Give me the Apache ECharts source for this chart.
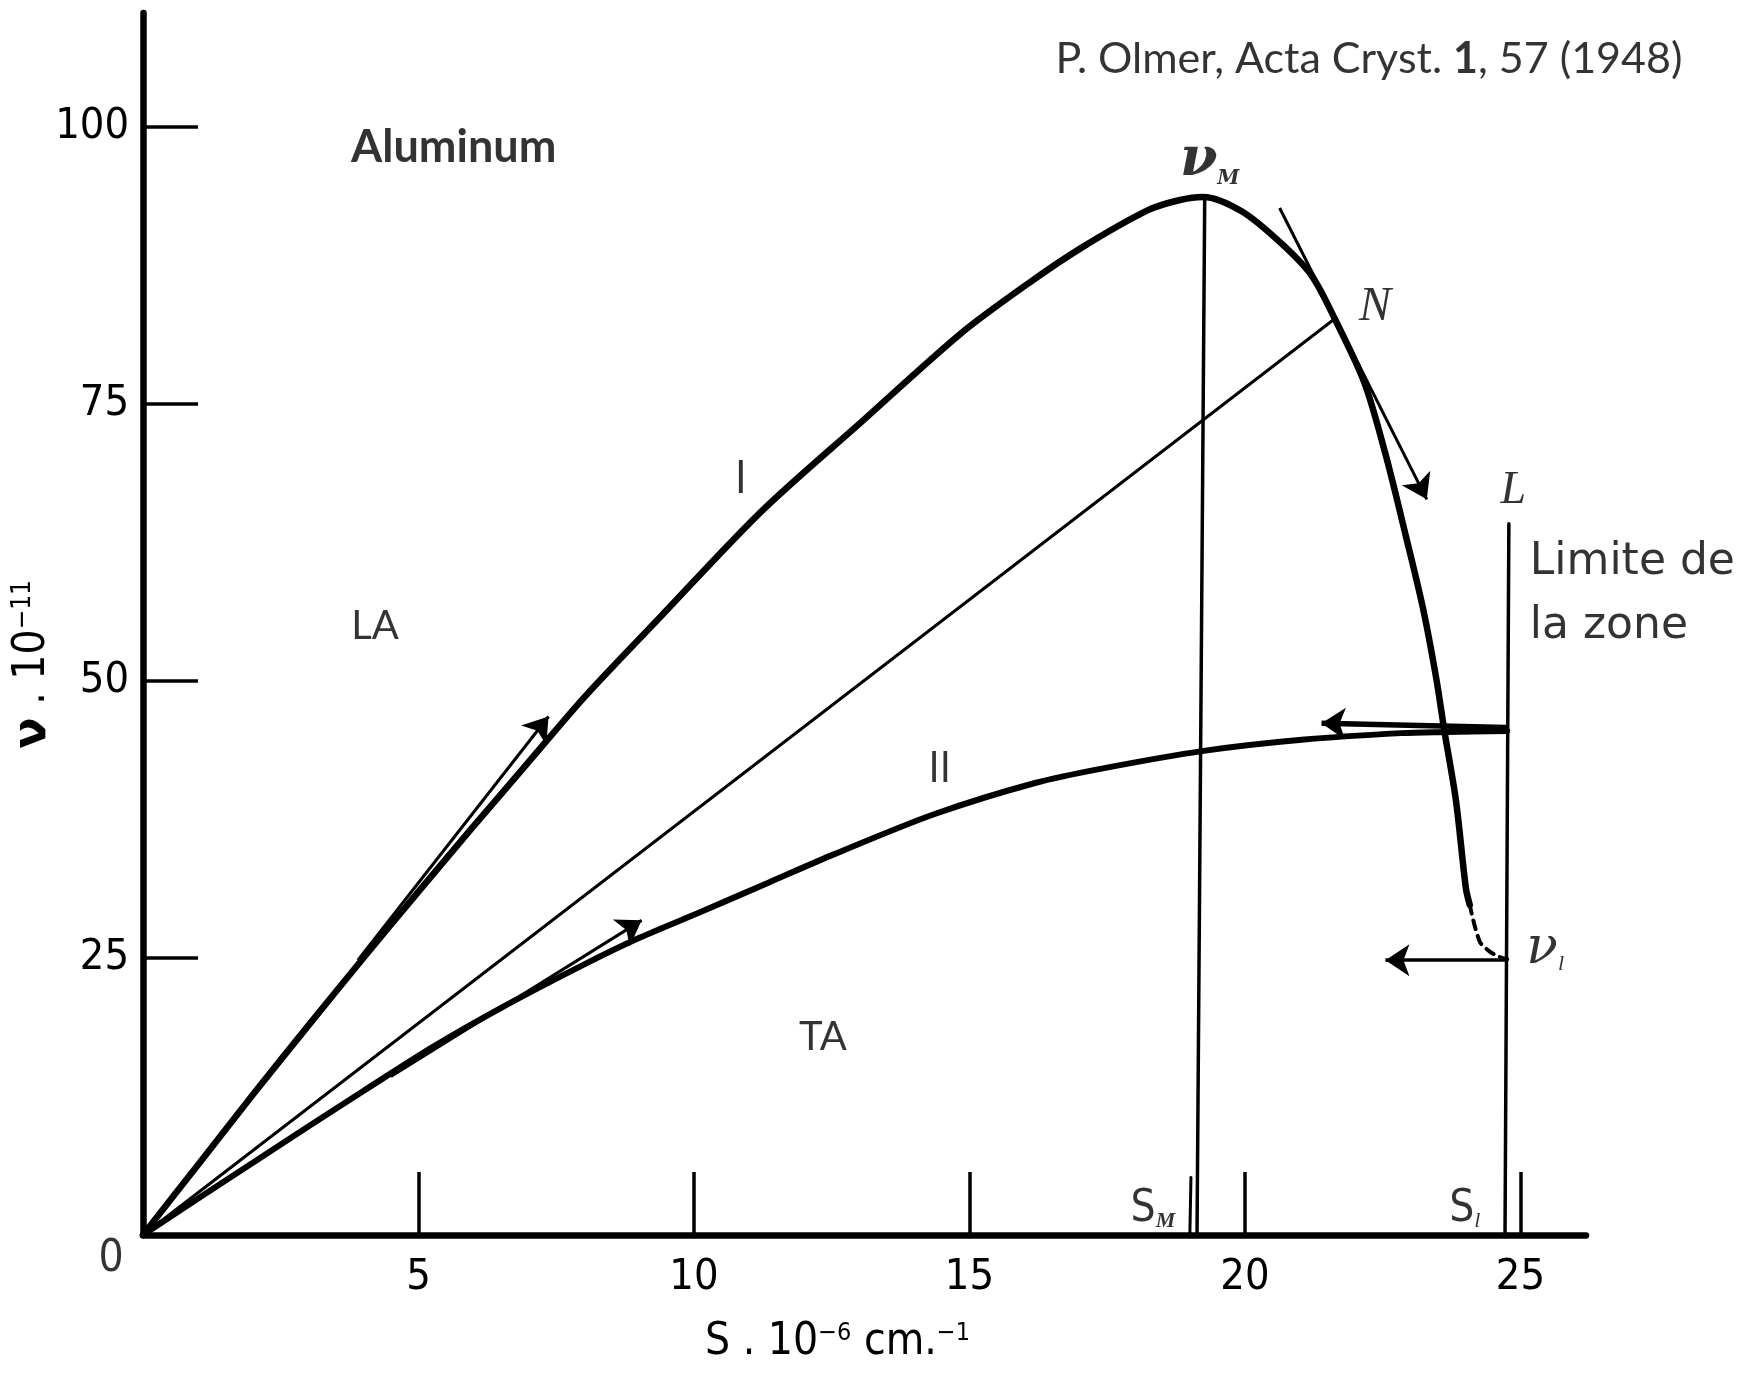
<!DOCTYPE html>
<html><head><meta charset="utf-8">
<script src="https://cdn.jsdelivr.net/npm/echarts@6/dist/echarts.min.js"></script>
<style>html,body{margin:0;padding:0;background:#fff}#c{width:1744px;height:1377px}</style>
</head><body><div id="c"></div>
<script>
// ---- data (S in 10^6 cm^-1, nu in 10^11) ----
const xTicks = [5, 10, 15, 20, 25];
const yTicks = [25, 50, 75, 100];

// Curve I (LA branch), solid part
const curveIS  = [0, 1, 2, 3, 4, 5, 6, 7, 8.02, 9.41, 11.22, 13.04, 14.85, 16.07, 17.03, 18.24, 18.8, 19.24, 19.94, 20.66, 21.21, 21.63, 22.17, 22.55, 22.93, 23.23, 23.47, 23.62, 23.83, 24.01, 24.08];
const curveINu = [0, 6.35, 12.7, 18.9, 25.0, 31.0, 36.9, 42.7, 48.6, 55.9, 65.3, 73.4, 81.4, 85.9, 89.1, 92.5, 93.4, 93.7, 92.4, 89.5, 86.6, 82.7, 76.9, 70.5, 62.9, 56.6, 50.3, 45.5, 39.2, 31.3, 29.8];
// Curve I, dashed end down to nu_l
const curveIDashS  = [24.08, 24.26, 24.44, 24.62, 24.76];
const curveIDashNu = [29.8, 26.5, 25.6, 25.1, 24.9];

// Curve II (TA branch)
const curveIIS  = [0, 1, 2, 3, 4, 5.27, 6.5, 8, 9, 10.14, 11.35, 12.56, 14.37, 16.19, 17.4, 19.25, 21.03, 22.84, 23.66, 24.76];
const curveIINu = [0, 3.3, 6.55, 9.8, 13.0, 17.0, 20.5, 24.4, 26.8, 29.2, 31.8, 34.4, 38.0, 40.8, 42.1, 43.7, 44.7, 45.3, 45.4, 45.5];

// Straight chord O -> N
const chordS  = [0, 21.63];
const chordNu = [0, 82.7];
// Vertical line at S_M (through nu_M)
const smLineS  = [19.13, 19.27];
const smLineNu = [0, 93.7];
const smStrokeS  = [19.0, 19.02];
const smStrokeNu = [0, 5.2];
// Zone limit line L at S_l
const lLineS  = [24.72, 24.79];
const lLineNu = [0, 64.2];

// Arrows: from (S, nu) to (S, nu)
const arrowFromS  = [3.9, 4.5, 20.63, 24.74, 24.74];
const arrowFromNu = [24.8, 14.3, 92.7, 45.8, 24.8];
const arrowToS    = [7.36, 9.05, 23.3, 21.39, 22.55];
const arrowToNu   = [46.8, 28.4, 66.4, 46.2, 24.8];

// Annotations anchored in data coordinates
const noteText = ['Aluminum', 'P. Olmer, Acta Cryst. 1, 57 (1948)', 'LA', 'TA', 'I', 'II', 'νM', 'N', 'L', 'Limite de\nla zone', 'νl', 'SM', 'Sl', '0'];
const noteS    = [5.64, 22.25, 4.21, 12.34, 10.85, 14.46, 19.36, 22.36, 24.87, 25.17, 25.45, 18.33, 23.99, -0.58];
const noteNu   = [98.2, 106.1, 54.96, 17.87, 68.0, 41.9, 96.9, 83.75, 67.2, 57.8, 25.8, 2.26, 2.26, -2.26];

// Axis titles
const xTitle = '{a|S . 10}{s|−6}{a| cm.}{s|−1}';
const yTitle = '{v|ν}{a| . 10}{s|−11}';

// ---- styles ----
const black = '#000';
const cond = "'DejaVu Sans Condensed','Liberation Sans',sans-serif";
const calibri = "Lato,'Open Sans',sans-serif";
const serif = "'DejaVu Serif','Liberation Serif',serif";
const lserif = "'Liberation Serif','DejaVu Serif',serif";
const gill = "'DejaVu Sans',sans-serif";

function pairs(xs, ys) { return xs.map((x, i) => [x, ys[i]]); }
function curve(xs, ys, width, type, smooth) {
  return { type: 'line', data: pairs(xs, ys), showSymbol: false, symbol: 'none', smooth: smooth || 0,
    lineStyle: { color: black, width: width, type: type || 'solid', cap: 'round' }, silent: true, z: 3 };
}

const noteFormat = [
  'Aluminum',
  '{r|P. Olmer, Acta Cryst. }{b|1}{r|, 57 (1948)}',
  'LA', 'TA', 'I', 'II',
  '{v|ν}{m|M}',
  'N', 'L',
  'Limite de\nla zone',
  '{v|ν}{m|l}',
  '{S|S}{m|M}',
  '{S|S}{m|l}',
  '0'
];
const noteStyles = [
  { fontFamily: calibri, fontWeight: 'bold', fontSize: 45 },
  { fontFamily: calibri, fontSize: 43, rich: { r: { fontFamily: calibri, fontSize: 43 }, b: { fontFamily: calibri, fontSize: 43, fontWeight: 'bold' } } },
  { fontFamily: calibri, fontSize: 40 },
  { fontFamily: calibri, fontSize: 40 },
  { fontFamily: cond, fontSize: 44 },
  { fontFamily: cond, fontSize: 42 },
  { rich: { v: { fontFamily: serif, fontStyle: 'italic', fontWeight: 'bold', fontSize: 54 }, m: { fontFamily: serif, fontStyle: 'italic', fontWeight: 'bold', fontSize: 20, verticalAlign: 'bottom' } } },
  { fontFamily: lserif, fontStyle: 'italic', fontSize: 48 },
  { fontFamily: lserif, fontStyle: 'italic', fontSize: 46 },
  { fontFamily: gill, fontSize: 44, lineHeight: 64, align: 'left' },
  { rich: { v: { fontFamily: serif, fontStyle: 'italic', fontSize: 52 }, m: { fontFamily: lserif, fontStyle: 'italic', fontSize: 22, verticalAlign: 'bottom' } } },
  { rich: { S: { fontFamily: cond, fontSize: 44 }, m: { fontFamily: lserif, fontStyle: 'italic', fontWeight: 'bold', fontSize: 22, verticalAlign: 'bottom' } } },
  { rich: { S: { fontFamily: cond, fontSize: 44 }, m: { fontFamily: lserif, fontStyle: 'italic', fontSize: 22, verticalAlign: 'bottom' } } },
  { fontFamily: cond, fontSize: 44 }
];

const arrowWidths = [3, 3, 3, 5.5, 3.5];

const series = [
  curve(curveIS, curveINu, 6.5, 'solid', 0.3),
  curve(curveIDashS, curveIDashNu, 4, [9, 7], 0.3),
  curve(curveIIS, curveIINu, 6, 'solid', 0.3),
  curve(chordS, chordNu, 3),
  curve(smLineS, smLineNu, 3.5),
  curve(smStrokeS, smStrokeNu, 3),
  curve(lLineS, lLineNu, 3.5),
  {
    type: 'lines', coordinateSystem: 'cartesian2d', symbol: ['none', 'arrow'], symbolSize: 24, silent: true, z: 4,
    data: arrowFromS.map((s, i) => ({
      coords: [[s, arrowFromNu[i]], [arrowToS[i], arrowToNu[i]]],
      lineStyle: { color: black, width: arrowWidths[i], opacity: 1 }
    })),
    lineStyle: { color: black, width: 3, opacity: 1 }
  },
  {
    type: 'scatter', symbolSize: 1, clip: false, silent: true, z: 10,
    itemStyle: { color: 'rgba(0,0,0,0)' },
    data: noteText.map((t, i) => ({
      value: [noteS[i], noteNu[i]],
      label: Object.assign({ show: true, position: 'inside', color: black, formatter: () => noteFormat[i] }, noteStyles[i])
    }))
  }
];

const option = {
  animation: false,
  backgroundColor: '#fff',
  grid: { left: 143, right: 158, top: 13, bottom: 142, containLabel: false, outerBoundsMode: 'none' },
  xAxis: {
    type: 'value', min: 0, max: 26.19, interval: 5,
    axisLine: { lineStyle: { color: black, width: 6.5 } },
    axisTick: { inside: true, length: 63, customValues: xTicks, lineStyle: { color: black, width: 3.5 } },
    axisLabel: { customValues: xTicks, color: black, fontFamily: cond, fontSize: 43, margin: 21 },
    splitLine: { show: false },
    name: xTitle,
    nameLocation: 'middle', nameGap: 86,
    nameTextStyle: { color: black, fontFamily: cond, fontSize: 44, padding: [0, 54, 0, 0],
      rich: { a: { fontFamily: cond, fontSize: 44, color: black }, s: { fontFamily: cond, fontSize: 25, verticalAlign: 'top', color: black } } }
  },
  yAxis: {
    type: 'value', min: 0, max: 110.3, interval: 25,
    axisLine: { lineStyle: { color: black, width: 6.5 } },
    axisTick: { inside: true, length: 55, customValues: yTicks, lineStyle: { color: black, width: 3.5 } },
    axisLabel: { customValues: yTicks, color: black, fontFamily: cond, fontSize: 43, margin: 14 },
    splitLine: { show: false }
  },
  graphic: [{
    type: 'text', left: 10, top: 580, rotation: Math.PI / 2, silent: true,
    style: {
      text: yTitle, fill: black, font: "44px 'DejaVu Sans Condensed'",
      rich: { v: { fontFamily: gill, fontWeight: 'bold', fontSize: 46, fill: black }, a: { fontFamily: cond, fontSize: 44, fill: black }, s: { fontFamily: cond, fontSize: 26, verticalAlign: 'top', fill: black } }
    }
  }],
  series: series
};

const chart = echarts.init(document.getElementById('c'));
chart.setOption(option);
</script>
</body></html>
